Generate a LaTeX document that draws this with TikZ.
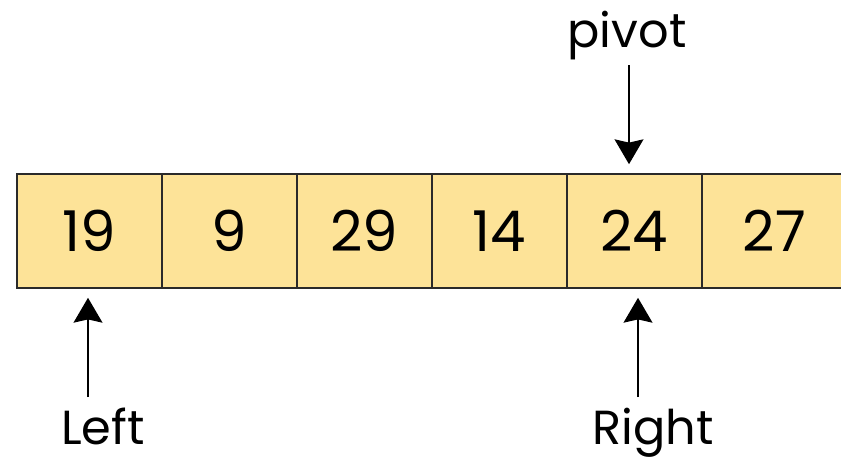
\documentclass[tikz,border=0pt]{standalone}
\usepackage{fontspec}
\setmainfont{Poppins}
\usetikzlibrary{arrows.meta,positioning}
\definecolor{cellfill}{HTML}{FDE398}
\definecolor{cellline}{HTML}{2A2A2A}

\begin{document}
\begin{tikzpicture}[
    x=0.025cm, y=0.025cm,
    cell/.style={rectangle, draw=cellline, fill=cellfill, line width=0.05cm,
                 minimum width=135*0.025cm, minimum height=114*0.025cm,
                 inner sep=0pt, font=\fontsize{40}{44}\selectfont},
    lbl/.style={inner sep=0pt, font=\fontsize{34}{38}\selectfont},
    ptr/.style={-{Stealth[length=0.62cm, width=0.72cm, inset=0.08cm]},
                line width=0.05cm, shorten >=0.22cm},
  ]
  \useasboundingbox (0,0) rectangle (841,-460);
  \clip (0,0) rectangle (841,-460);
  % array cells (the last one runs past the right edge)
  \node[cell, minimum width=145*0.025cm] (c1) at (89.5, -231) {19};
  \node[cell] (c2) at (229.5, -231) {9};
  \node[cell] (c3) at (364.5, -231) {29};
  \node[cell] (c4) at (499.5, -231) {14};
  \node[cell] (c5) at (634.5, -231) {24};
  \node[cell, minimum width=145*0.025cm] (c6) at (774.5, -231) {27};
  % labels
  \node[lbl, anchor=base] (pivot) at (627, -47) {pivot};
  \node[lbl, anchor=base] (left) at (103, -444) {Left};
  \node[lbl, anchor=base] (right) at (653, -444) {Right};
  \coordinate (ptop) at (629, -65);
  \coordinate (lbot) at (88, -397);
  \coordinate (rbot) at (638, -397);
  \draw[ptr] (ptop) -- (ptop |- c5.north);
  \draw[ptr] (lbot) -- (lbot |- c1.south);
  \draw[ptr] (rbot) -- (rbot |- c5.south);
\end{tikzpicture}
\end{document}
